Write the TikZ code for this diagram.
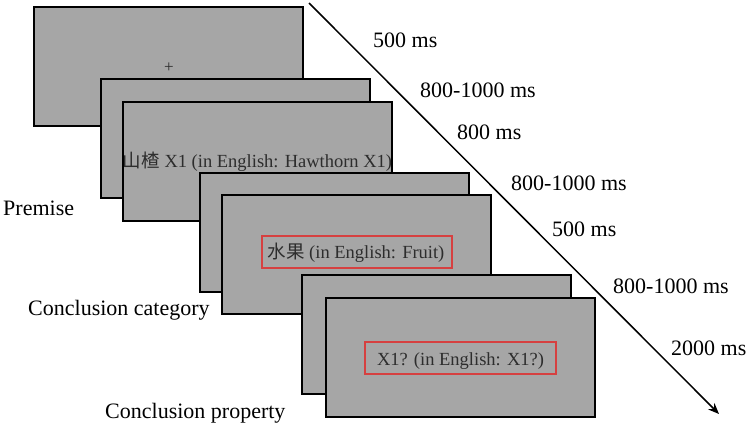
\documentclass[tikz,border=0pt]{standalone}
\usepackage{fontspec}
\setmainfont{Liberation Serif}
\newfontfamily\cjk{Noto Sans CJK SC}
\usetikzlibrary{arrows.meta}
\definecolor{scr}{RGB}{166,166,166}
\definecolor{redbox}{RGB}{214,64,64}
\definecolor{txtgray}{RGB}{45,45,45}
\begin{document}
\begin{tikzpicture}[x=1pt,y=-1pt,
  screen/.style={draw=black,line width=2pt,fill=scr,minimum width=269pt,minimum height=119pt,inner sep=0pt},
  lbl/.style={inner sep=0pt,anchor=base west,font=\fontsize{22}{24}\selectfont},
  stim/.style={inner sep=0pt,anchor=base,text=txtgray,font=\fontsize{18.5}{20}\selectfont},
  hl/.style={draw=redbox,line width=1.8pt,inner sep=0pt,minimum height=32pt}]
\useasboundingbox (0,0) rectangle (750,426);
% arrow
\coordinate (a0) at (309,3);
\coordinate (a1) at (719,414);
\draw[line width=1.5pt,-{Stealth[length=11pt,width=9pt]}] (a0) -- (a1);
% screens
\node[screen] (s1) at (168.5,66.5) {};
\node[stim,font=\fontsize{17}{18}\selectfont] (fix) at (169,72) {+};
\node[screen] (s2) at (235.5,138.5) {};
\node[screen] (s3) at (257.5,161.5) {};
\node[stim] (t3) at (257.5,167) {{\cjk 山楂} X1 (in English: Hawthorn X1)};
\node[screen] (s4) at (334,232.5) {};
\node[screen] (s5) at (356,254.5) {};
\node[hl,minimum width=190pt] (h5) at (357,252) {};
\node[stim] (t5) at (356,258) {{\cjk 水果} (in English: Fruit)};
\node[screen] (s6) at (436,334.5) {};
\node[screen] (s7) at (460,357) {};
\node[hl,minimum width=191pt] (h7) at (460.5,358) {};
\node[stim] (t7) at (460.5,365) {X1? (in English: X1?)};
% timing labels
\node[lbl] (d1) at (373,47) {500 ms};
\node[lbl] (d2) at (420,97) {800-1000 ms};
\node[lbl] (d3) at (457,139) {800 ms};
\node[lbl] (d4) at (511,190) {800-1000 ms};
\node[lbl] (d5) at (552,236) {500 ms};
\node[lbl] (d6) at (613,293) {800-1000 ms};
\node[lbl] (d7) at (671,355) {2000 ms};
% phase labels
\node[lbl] (p1) at (3,215) {Premise};
\node[lbl] (p2) at (28,315) {Conclusion category};
\node[lbl] (p3) at (105,418) {Conclusion property};
\end{tikzpicture}
\end{document}
